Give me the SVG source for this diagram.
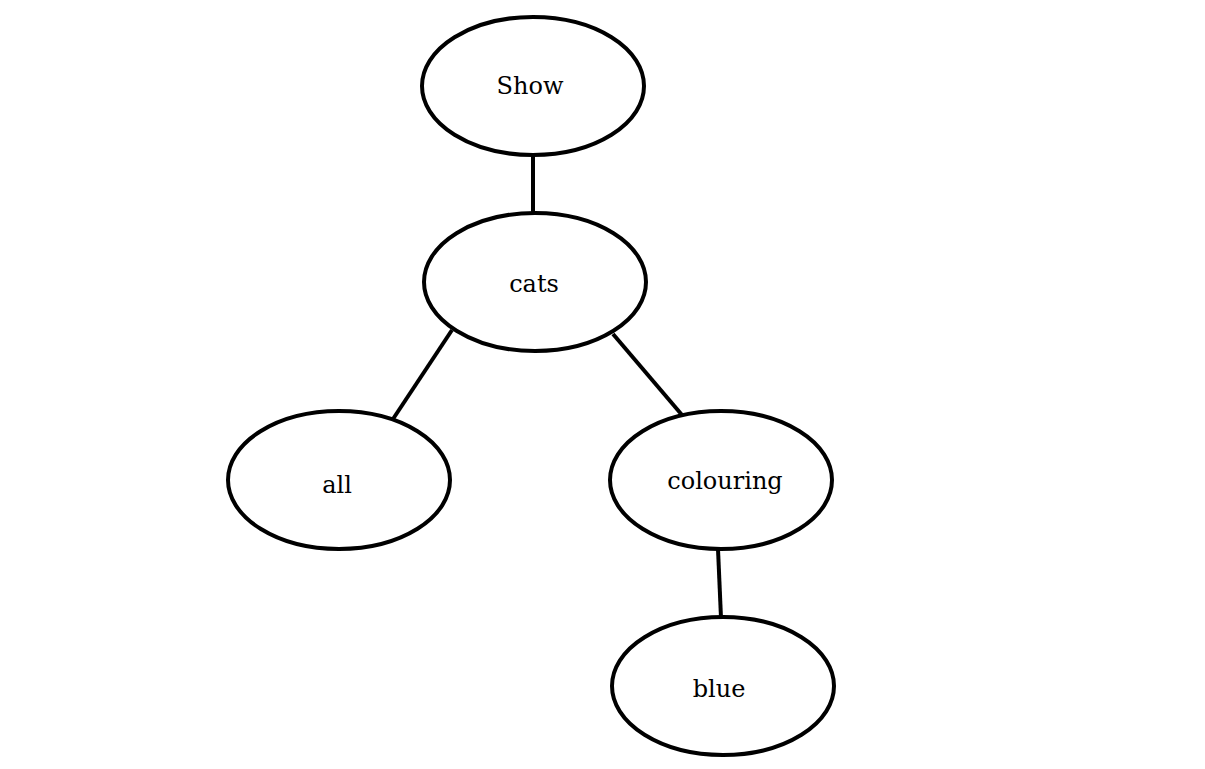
<svg xmlns="http://www.w3.org/2000/svg" width="1205" height="769" viewBox="0 0 1205 769">
<style>
.n ellipse{fill:#fff;stroke:#000;stroke-width:4}
.n text{font-family:"DejaVu Serif","Liberation Serif",serif;font-size:24px;text-anchor:middle;fill:#000}
#edges line{stroke:#000;stroke-width:4}
</style>
<rect width="1205" height="769" fill="#fff"/>
<g id="edges">
<line x1="533" y1="155" x2="533" y2="213"/>
<line x1="452" y1="330" x2="393" y2="419"/>
<line x1="613" y1="334" x2="682" y2="415"/>
<line x1="718" y1="549" x2="721" y2="618"/>
</g>
<g id="show" class="n"><ellipse cx="533" cy="86" rx="111" ry="69"/><text x="530" y="94">Show</text></g>
<g id="cats" class="n"><ellipse cx="535" cy="282" rx="111" ry="69"/><text x="534" y="292">cats</text></g>
<g id="all" class="n"><ellipse cx="339" cy="480" rx="111" ry="69"/><text x="337" y="493">all</text></g>
<g id="colouring" class="n"><ellipse cx="721" cy="480" rx="111" ry="69"/><text x="725" y="489">colouring</text></g>
<g id="blue" class="n"><ellipse cx="723" cy="686" rx="111" ry="69"/><text x="719" y="697">blue</text></g>
</svg>
